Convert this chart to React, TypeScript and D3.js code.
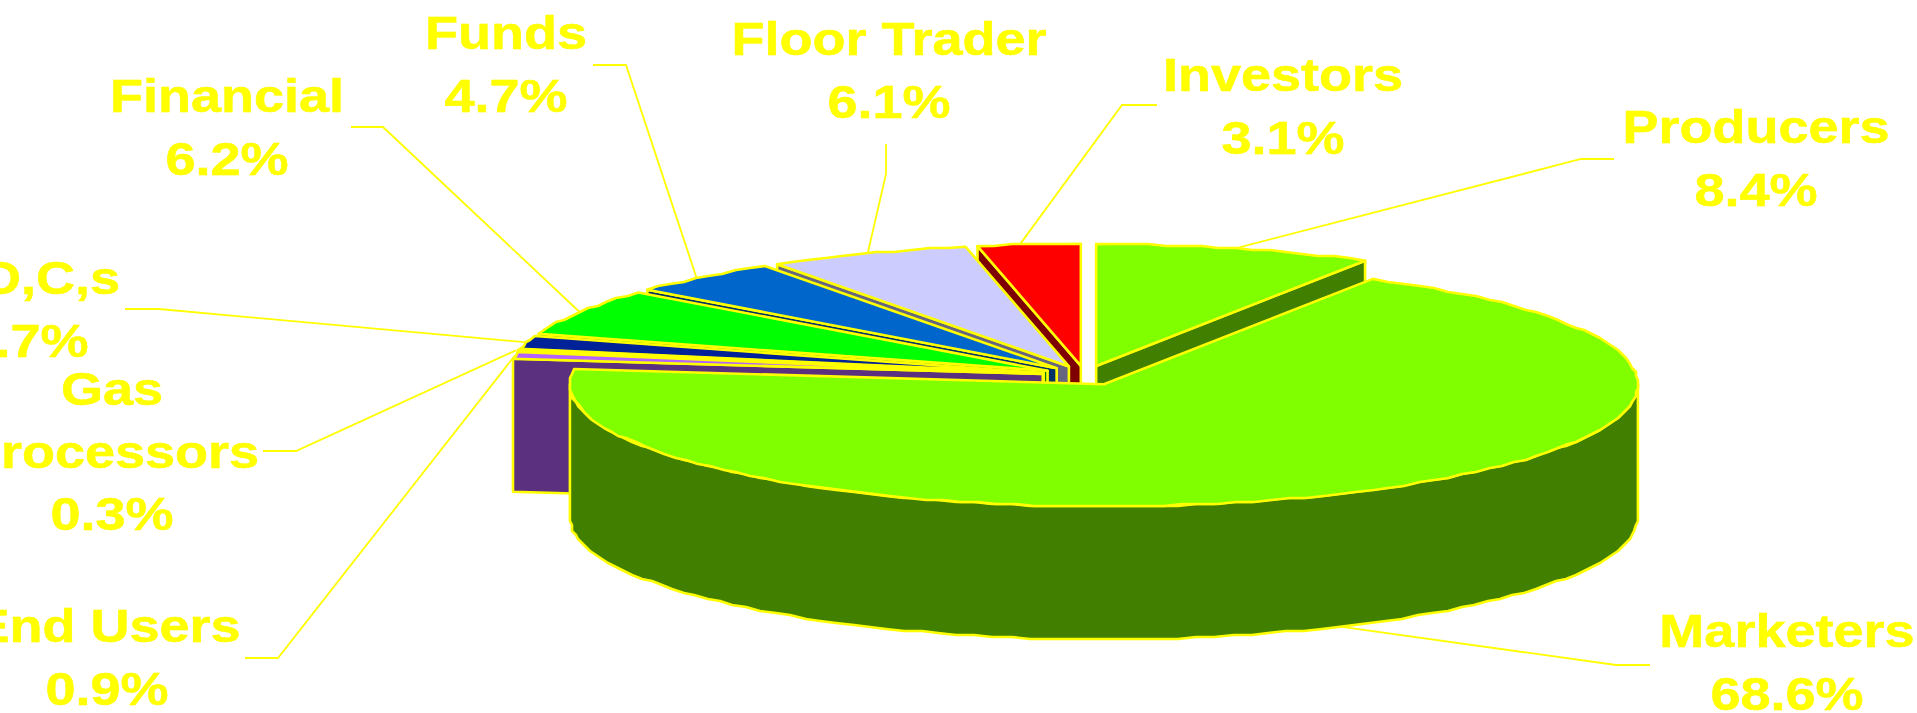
import React from 'react';
import * as d3 from 'd3';

// categories in pie order, clockwise from 12 o'clock
const categories = ['Producers', 'Marketers', 'End Users', 'Gas Processors', 'L,D,C,s', 'Financial', 'Funds', 'Floor Trader', 'Investors'];
const shares = [8.4, 68.6, 0.9, 0.3, 1.7, 6.2, 4.7, 6.1, 3.1];
const topColors = ['#7FFF00', '#7FFF00', '#B662FE', '#99FF99', '#002299', '#00FF00', '#0066CC', '#CCCCFF', '#FF0000'];
const sideColors = ['#407F00', '#407F00', '#5B317F', '#4C7F4C', '#00114C', '#007F00', '#003366', '#666680', '#7F0000'];

// back slices first, Marketers goes on top of everything
const drawOrder = [0, 8, 7, 6, 5, 4, 3, 2, 1];

// label text lines, baselines and centre
const labelLines = [
  ['Producers'], ['Marketers'], ['End Users'], ['Gas', 'Processors'], ['L,D,C,s'], ['Financial'], ['Funds'], ['Floor Trader'], ['Investors'],
];
const labelX = [1756, 1787, 107, 112, 27, 227, 506, 889, 1283];
const labelBase = [143, 647, 642, 405, 294, 112, 49, 55, 91];
// where each leader leaves the label, and its short elbow
const leaderStart = [[1614, 159], [1650, 665], [245, 658], [263, 451], [125, 309], [351, 127], [593, 65], [886, 144], [1157, 105]];
const leaderElbow = [[1581, 159], [1616, 665], [278, 658], [296, 451], [159, 309], [383, 127], [626, 65], [886, 174], [1122, 105]];
const tipNudge = [0, 0, 0, -3, 0, 0, -6, 0, -9];

const W = 1917;
const H = 713;
const cx = 1085;
const cy = 375.5;
const rx = 534;
const ry = 122;
const depth = 133;
const explode = 0.08;
const yellow = '#FFFF00';
const lineGap = 62.5;
const stretch = 1.15;
const grid = 2; // the source picture has a stepped rim

const arcs = d3.pie<number>().sort(null).startAngle(0).endAngle(2 * Math.PI)(shares);

const onRim = (a: number): [number, number] => [rx * Math.sin(a), -ry * Math.cos(a)];
const path = d3.line();
const snap = (v: number) => Math.round(v / grid) * grid;

// apex of a slice, pushed out along its middle angle
const apexOf = (i: number): [number, number] => {
  const mid = (arcs[i].startAngle + arcs[i].endAngle) / 2;
  const [dx, dy] = onRim(mid);
  return [cx + dx * explode, cy + dy * explode];
};

const rimPoints = (i: number, from: number, to: number): [number, number][] => {
  const [ax, ay] = apexOf(i);
  const steps = Math.max(2, Math.ceil(Math.abs(to - from) / 0.035));
  return d3.range(steps + 1).map(k => {
    const [dx, dy] = onRim(from + ((to - from) * k) / steps);
    const ends = k === 0 || k === steps;
    return [ends ? ax + dx : snap(ax + dx), ends ? ay + dy : snap(ay + dy)] as [number, number];
  });
};

const down = (pts: [number, number][]): [number, number][] => pts.map(([x, y]) => [x, y + depth]);

const Slice = ({ i }: { i: number }) => {
  const { startAngle, endAngle } = arcs[i];
  const apex = apexOf(i);
  const top = [apex, ...rimPoints(i, startAngle, endAngle)];
  // the cut face we can see: right hand edge for Producers, left hand edge for the back slices
  const wallAngle = i === 0 ? endAngle : startAngle;
  const edge = [apex, rimPoints(i, wallAngle, wallAngle)[0]];
  const wall = [...edge, ...down(edge).reverse()];
  const front = i === 1 ? rimPoints(i, Math.PI / 2, (3 * Math.PI) / 2) : null;
  return (
    <g stroke={yellow} strokeWidth={2.6} strokeLinejoin="round">
      {i !== 1 && <path d={path(wall) + 'Z'} fill={sideColors[i]} />}
      {front && <path d={path([...front, ...down(front).reverse()]) + 'Z'} fill={sideColors[i]} />}
      <path d={path(top) + 'Z'} fill={topColors[i]} />
    </g>
  );
};

const Leader = ({ i }: { i: number }) => {
  const mid = (arcs[i].startAngle + arcs[i].endAngle) / 2;
  const [ax, ay] = apexOf(i);
  const [dx, dy] = onRim(mid);
  const isFront = Math.cos(mid) < 0 && Math.abs(Math.sin(mid)) < 0.9;
  const tip: [number, number] = [ax + dx + tipNudge[i], ay + dy + (isFront ? depth : 0)];
  const pts = [leaderStart[i], leaderElbow[i], tip] as [number, number][];
  return <path d={path(pts) ?? ''} fill="none" stroke={yellow} strokeWidth={1.8} />;
};

const Label = ({ i }: { i: number }) => {
  const lines = [...labelLines[i], `${shares[i].toFixed(1)}%`];
  return (
    <g>
      {lines.map((t, k) => (
        <text
          key={k}
          transform={`translate(${labelX[i]},${labelBase[i] + k * lineGap}) scale(${stretch},1)`}
          textAnchor="middle"
          fontFamily="'Liberation Sans', Arial, sans-serif"
          fontWeight="bold"
          fontSize={47}
          fill={yellow}
          stroke={yellow}
          strokeWidth={0.5}
        >
          {t}
        </text>
      ))}
    </g>
  );
};

export default function App() {
  return (
    <svg width={W} height={H} style={{ position: 'absolute', left: 0, top: 0, background: '#fff' }}>
      {categories.map((_, i) => <Leader key={i} i={i} />)}
      {drawOrder.map(i => <Slice key={i} i={i} />)}
      {categories.map((c, i) => <Label key={c} i={i} />)}
    </svg>
  );
}
